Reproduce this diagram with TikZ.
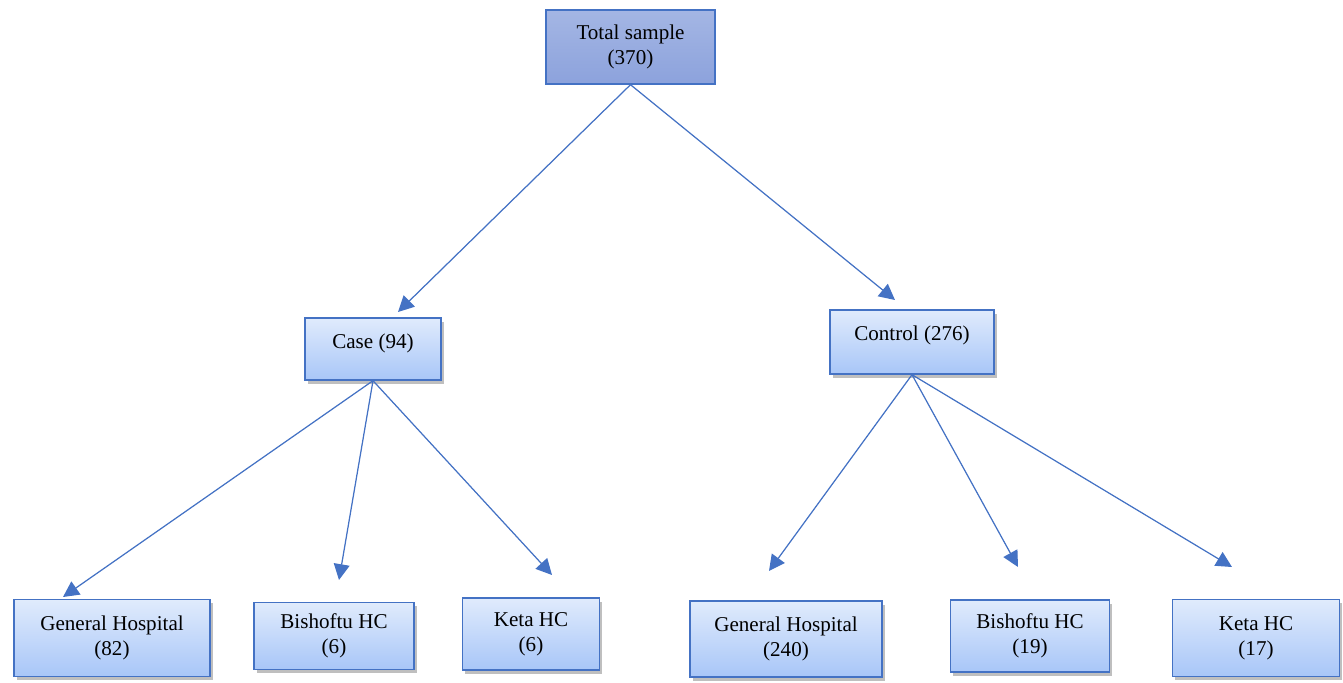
\documentclass[tikz,border=0pt]{standalone}
\usepackage{fontspec}
\setmainfont{Liberation Serif}
\usetikzlibrary{positioning, arrows.meta, shadows}

\definecolor{edgeblue}{RGB}{68,114,196}
\definecolor{boxtop}{RGB}{224,235,252}
\definecolor{boxbot}{RGB}{168,198,248}
\definecolor{roottop}{RGB}{164,182,228}
\definecolor{rootbot}{RGB}{140,162,220}

\begin{document}
\begin{tikzpicture}[x=0.02cm, y=-0.02cm,
  base/.style={draw=edgeblue, line width=0.8pt, rectangle, align=center,
               inner sep=0pt, font=\fontsize{12}{14}\selectfont},
  root/.style={base, top color=roottop, bottom color=rootbot},
  box/.style={base, top color=boxtop, bottom color=boxbot,
              drop shadow={shadow xshift=1.5pt, shadow yshift=-2pt, opacity=0.5}},
  arr/.style={-{Triangle[length=9pt, width=9pt]}, draw=edgeblue, fill=edgeblue, line width=0.7pt}
]
  \useasboundingbox (0,0) rectangle (1343,683);

  \node[root, minimum width=3.38cm, minimum height=1.48cm] (total)   at (630.5,47) {Total sample\\(370)};
  \node[box,  minimum width=2.72cm, minimum height=1.24cm, text depth=0.33cm] (case)    at (373,349) {Case (94)};
  \node[box,  minimum width=3.28cm, minimum height=1.28cm, text depth=0.36cm] (control) at (912,342) {Control (276)};

  \node[box, minimum width=3.92cm, minimum height=1.54cm] (gh1) at (112,638)  {General Hospital\\(82)};
  \node[box, minimum width=3.20cm, minimum height=1.34cm] (bh1) at (334,636)  {Bishoftu HC\\(6)};
  \node[box, minimum width=2.74cm, minimum height=1.44cm] (kh1) at (531,634)  {Keta HC\\(6)};
  \node[box, minimum width=3.84cm, minimum height=1.52cm] (gh2) at (786,639)  {General Hospital\\(240)};
  \node[box, minimum width=3.18cm, minimum height=1.44cm] (bh2) at (1030,636) {Bishoftu HC\\(19)};
  \node[box, minimum width=3.34cm, minimum height=1.54cm] (kh2) at (1256,638) {Keta HC\\(17)};

  % arrow tips stop short of the boxes
  \coordinate (caseTip)    at (398,312);
  \coordinate (controlTip) at (895,300);
  \coordinate (gh1Tip)     at (63,597);
  \coordinate (bh1Tip)     at (339,580);
  \coordinate (kh1Tip)     at (552,575);
  \coordinate (gh2Tip)     at (769,571);
  \coordinate (bh2Tip)     at (1018,567);
  \coordinate (kh2Tip)     at (1232,567);

  \draw[arr] (total.south)   -- (caseTip);
  \draw[arr] (total.south)   -- (controlTip);
  \draw[arr] (case.south)    -- (gh1Tip);
  \draw[arr] (case.south)    -- (bh1Tip);
  \draw[arr] (case.south)    -- (kh1Tip);
  \draw[arr] (control.south) -- (gh2Tip);
  \draw[arr] (control.south) -- (bh2Tip);
  \draw[arr] (control.south) -- (kh2Tip);
\end{tikzpicture}
\end{document}
